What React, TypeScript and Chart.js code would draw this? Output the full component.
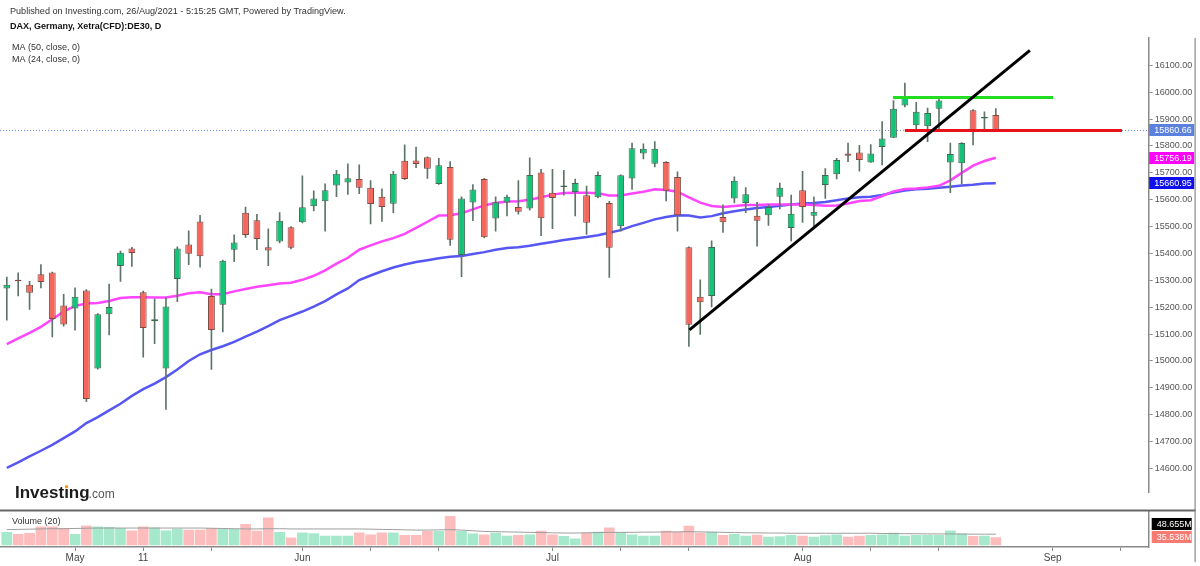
import React, { useEffect, useRef } from "react";
import { Chart, registerables } from "chart.js";

Chart.register(...registerables);

const FONT = '"Liberation Sans", Arial, Helvetica, sans-serif';
Chart.defaults.font.family = FONT;

// ---------- data ----------
const tradingDates = [
  "2021-04-23", "2021-04-26", "2021-04-27", "2021-04-28", "2021-04-29", "2021-04-30",
  "2021-05-03", "2021-05-04", "2021-05-05", "2021-05-06", "2021-05-07", "2021-05-10",
  "2021-05-11", "2021-05-12", "2021-05-13", "2021-05-14", "2021-05-17", "2021-05-18",
  "2021-05-19", "2021-05-20", "2021-05-21", "2021-05-25", "2021-05-26", "2021-05-27",
  "2021-05-28", "2021-05-31", "2021-06-01", "2021-06-02", "2021-06-03", "2021-06-04",
  "2021-06-07", "2021-06-08", "2021-06-09", "2021-06-10", "2021-06-11", "2021-06-14",
  "2021-06-15", "2021-06-16", "2021-06-17", "2021-06-18", "2021-06-21", "2021-06-22",
  "2021-06-23", "2021-06-24", "2021-06-25", "2021-06-28", "2021-06-29", "2021-06-30",
  "2021-07-01", "2021-07-02", "2021-07-05", "2021-07-06", "2021-07-07", "2021-07-08",
  "2021-07-09", "2021-07-12", "2021-07-13", "2021-07-14", "2021-07-15", "2021-07-16",
  "2021-07-19", "2021-07-20", "2021-07-21", "2021-07-22", "2021-07-23", "2021-07-26",
  "2021-07-27", "2021-07-28", "2021-07-29", "2021-07-30", "2021-08-02", "2021-08-03",
  "2021-08-04", "2021-08-05", "2021-08-06", "2021-08-09", "2021-08-10", "2021-08-11",
  "2021-08-12", "2021-08-13", "2021-08-16", "2021-08-17", "2021-08-18", "2021-08-19",
  "2021-08-20", "2021-08-23", "2021-08-24", "2021-08-25",
];
const futureDates = [
  "2021-08-26", "2021-08-27", "2021-08-30", "2021-08-31", "2021-09-01", "2021-09-02",
  "2021-09-03", "2021-09-06", "2021-09-07", "2021-09-08", "2021-09-09", "2021-09-10",
  "2021-09-13",
];

const openP = [
  15270, 15301, 15284, 15323, 15329, 15206, 15195, 15262, 14972, 15174,
  15353, 15419, 15256, 15148, 14972, 15305, 15433, 15519, 15242, 15209,
  15414, 15552, 15524, 15423, 15445, 15498, 15516, 15576, 15594, 15653,
  15664, 15677, 15645, 15611, 15585, 15745, 15746, 15758, 15659, 15722,
  15394, 15590, 15677, 15530, 15590, 15573, 15567, 15701, 15626, 15647,
  15629, 15617, 15609, 15588, 15501, 15679, 15772, 15734, 15740, 15685,
  15423, 15239, 15242, 15536, 15605, 15588, 15540, 15542, 15611, 15495,
  15635, 15540, 15655, 15695, 15772, 15776, 15739, 15796, 15831, 15951,
  15877, 15873, 15939, 15739, 15736, 15933, 15902, 15915,
];
const highP = [
  15312, 15328, 15296, 15359, 15331, 15248, 15272, 15266, 15176, 15286,
  15409, 15423, 15260, 15230, 15236, 15425, 15484, 15542, 15268, 15375,
  15469, 15573, 15546, 15492, 15552, 15500, 15689, 15633, 15659, 15709,
  15734, 15730, 15671, 15641, 15706, 15804, 15796, 15760, 15754, 15742,
  15611, 15656, 15680, 15611, 15617, 15671, 15756, 15713, 15713, 15709,
  15677, 15651, 15704, 15594, 15693, 15811, 15808, 15816, 15742, 15704,
  15425, 15302, 15447, 15581, 15685, 15645, 15590, 15581, 15662, 15617,
  15706, 15611, 15716, 15754, 15811, 15802, 15805, 15891, 15969, 16034,
  15962, 15941, 15974, 15811, 15813, 15935, 15927, 15939,
];
const lowP = [
  15152, 15242, 15192, 15272, 15090, 15130, 15115, 14849, 14970, 15097,
  15296, 15352, 15014, 15064, 14820, 15221, 15358, 15349, 14969, 15108,
  15370, 15460, 15414, 15355, 15439, 15417, 15514, 15558, 15483, 15611,
  15620, 15623, 15510, 15519, 15552, 15675, 15719, 15679, 15657, 15430,
  15314, 15522, 15458, 15483, 15540, 15546, 15561, 15466, 15492, 15617,
  15540, 15471, 15607, 15311, 15483, 15638, 15752, 15722, 15596, 15483,
  15054, 15099, 15201, 15478, 15588, 15552, 15427, 15504, 15566, 15447,
  15516, 15502, 15605, 15677, 15742, 15706, 15739, 15730, 15831, 15945,
  15855, 15816, 15855, 15626, 15659, 15804, 15855, 15855,
];
const closeP = [
  15284, 15297, 15254, 15294, 15156, 15136, 15239, 14859, 15174, 15201,
  15403, 15402, 15123, 15155, 15203, 15419, 15399, 15390, 15115, 15373,
  15441, 15469, 15454, 15411, 15522, 15421, 15572, 15605, 15635, 15697,
  15680, 15645, 15584, 15573, 15697, 15677, 15733, 15715, 15728, 15451,
  15605, 15638, 15460, 15591, 15611, 15555, 15692, 15531, 15606, 15653,
  15662, 15514, 15692, 15421, 15691, 15792, 15790, 15790, 15633, 15542,
  15135, 15219, 15424, 15516, 15671, 15620, 15522, 15573, 15645, 15548,
  15573, 15555, 15692, 15748, 15764, 15748, 15772, 15828, 15939, 15980,
  15927, 15923, 15969, 15770, 15811, 15853, 15906, 15860.66,
];

const ma24 = [
  15063, 15084, 15105, 15127, 15155, 15184, 15205, 15214, 15216, 15223,
  15234, 15237, 15237, 15236, 15236, 15243, 15252, 15256, 15248, 15248,
  15259, 15268, 15276, 15282, 15288, 15291, 15302, 15317, 15337, 15362,
  15384, 15414, 15430, 15445, 15457, 15473, 15495, 15518, 15541, 15542,
  15550, 15564, 15579, 15588, 15593, 15594, 15600, 15609, 15619, 15625,
  15626, 15626, 15624, 15616, 15616, 15623, 15630, 15639, 15636, 15630,
  15609, 15589, 15577, 15573, 15577, 15580, 15580, 15582, 15582, 15582,
  15582, 15580, 15578, 15579, 15586, 15595, 15598, 15614, 15631, 15640,
  15642, 15646, 15652, 15672, 15700, 15727, 15744, 15756.19,
];
const ma50 = [
  14602, 14623, 14645, 14666, 14688, 14713, 14738, 14769, 14791, 14816,
  14841, 14870, 14895, 14916, 14940, 14968, 15000, 15025, 15041, 15055,
  15071, 15091, 15109, 15130, 15152, 15168, 15184, 15202, 15223, 15248,
  15270, 15301, 15318, 15334, 15348, 15359, 15368, 15375, 15382, 15388,
  15391, 15398, 15405, 15414, 15420, 15423, 15429, 15436, 15443, 15450,
  15456, 15461, 15468, 15477, 15487, 15502, 15514, 15527, 15536, 15542,
  15541, 15534, 15539, 15550, 15557, 15564, 15569, 15573, 15578, 15582,
  15586, 15588, 15592, 15598, 15605, 15609, 15611, 15618, 15627, 15634,
  15639, 15641, 15645, 15648, 15653, 15656, 15660, 15660.95,
];

// volume in millions
const volume = [
  58.5, 49.7, 54.1, 83.2, 83.2, 76.1, 49.7, 87.6, 83.2, 80.5,
  76.1, 65.6, 83.2, 78.8, 65.6, 73.0, 68.6, 68.6, 76.1, 71.7,
  71.7, 93.7, 64.2, 122.8, 58.5, 34.8, 56.8, 52.8, 42.2, 42.2,
  42.2, 56.8, 48.0, 56.8, 56.8, 45.3, 45.3, 62.9, 62.9, 128.9,
  62.9, 52.4, 48.0, 55.4, 42.2, 45.3, 48.0, 64.2, 48.0, 40.9,
  30.4, 55.4, 59.8, 78.8, 56.8, 48.0, 42.2, 42.2, 64.2, 59.8,
  86.2, 55, 60, 45, 50, 42, 46, 38, 40, 45,
  42, 38, 44, 48, 38, 42, 45, 48.0, 55.4, 42.2,
  45.3, 45.3, 45.3, 65.6, 52.4, 40.9, 42.2, 35.538,
];
const volumeMA = [
  69, 70, 71, 72, 73, 73, 74, 75, 76, 76,
  76, 76, 76, 76, 76, 76, 76, 76, 75, 74,
  73, 72, 72, 73, 73, 72, 72, 72, 72, 72,
  72, 72, 71, 70, 69, 68, 67, 67, 68, 69,
  67, 64, 61, 60, 59, 58, 57, 56, 55, 54,
  54, 55, 56, 57, 57, 57, 58, 58, 59, 59,
  60, 59, 58, 57, 56, 55, 55, 54, 54, 53,
  53, 53, 53, 53, 53, 53, 53, 52, 52, 51,
  51, 50, 50, 50, 49.5, 49, 49, 48.655,
];

const yTickValues = [
  14600, 14700, 14800, 14900, 15000, 15100, 15200, 15300,
  15400, 15500, 15600, 15700, 15800, 15900, 16000, 16100,
];
const xTickDates = [
  "2021-05-03", "2021-05-11", "2021-05-19", "2021-06-01", "2021-06-09", "2021-06-17",
  "2021-07-01", "2021-07-09", "2021-07-19", "2021-08-02", "2021-08-10", "2021-08-18",
  "2021-09-01", "2021-09-09",
];
const xTickLabels = ["May", "11", "", "Jun", "", "", "Jul", "", "", "Aug", "", "", "Sep", ""];

// drawn lines: x = trading-day position, y = price
const blackTrend = [{ x: 60.05, y: 15116 }, { x: 90.0, y: 16156 }];
const greenLevel = [{ x: 77.95, y: 15980 }, { x: 92.05, y: 15980 }];
const redLevel = [{ x: 79.0, y: 15858 }, { x: 98.1, y: 15858 }];

const titleLine = "Published on Investing.com, 26/Aug/2021 - 5:15:25 GMT, Powered by TradingView.";
const symbolLine = "DAX, Germany, Xetra(CFD):DE30, D";
const maLegend = ["MA (50, close, 0)", "MA (24, close, 0)"];
const volumeLegend = "Volume (20)";

// ---------- styling ----------
const UP = "#14c278";
const DOWN = "#f5665c";
const UP_BORDER = "#3c6b52";
const DOWN_BORDER = "#7d4a44";
const WICK = "#5f7468";
const VOL_UP = "#a6e8cb";
const VOL_DOWN = "#fdbdbd";
const MA24_COLOR = "#ff45ff";
const MA50_COLOR = "#5656f4";
const AXIS_COLOR = "#8a8a8a";
const AXIS_W = 51.3;
const X_MIN = -0.6;
const X_MAX = 100.45;
const PRICE_MIN = 14512.5;
const PRICE_MAX = 16201.8;
const VOL_MIN = -7.5;
const VOL_MAX = 151;

const allDates = [...tradingDates, ...futureDates];
const idx = tradingDates.map((_, i) => i);
const isUp = (i: number) => closeP[i] >= openP[i];
const last = tradingDates.length - 1;

function drawTag(ctx: CanvasRenderingContext2D, x: number, y: number, w: number, text: string, bg: string, fg: string) {
  ctx.fillStyle = bg;
  ctx.fillRect(x, Math.round(y) - 6, w, 12);
  ctx.fillStyle = fg;
  ctx.font = `9px ${FONT}`;
  ctx.textAlign = "left";
  ctx.textBaseline = "middle";
  ctx.fillText(text, x + 5, Math.round(y) + 0.5);
}

const priceExtras = {
  id: "priceExtras",
  beforeDatasetsDraw(chart: any) {
    const { ctx, chartArea, scales } = chart;
    const y = Math.round(scales.y.getPixelForValue(closeP[last])) + 0.5;
    ctx.save();
    ctx.strokeStyle = "#6f8fe6";
    ctx.lineWidth = 1;
    ctx.setLineDash([1, 2]);
    ctx.beginPath();
    ctx.moveTo(chartArea.left, y);
    ctx.lineTo(chartArea.right, y);
    ctx.stroke();
    ctx.restore();
  },
  afterDraw(chart: any) {
    const { ctx, chartArea, scales } = chart;
    ctx.save();
    // header texts
    ctx.textAlign = "left";
    ctx.textBaseline = "middle";
    ctx.fillStyle = "#333";
    ctx.font = `9.1px ${FONT}`;
    ctx.fillText(titleLine, 10, 11.5);
    ctx.font = `bold 9px ${FONT}`;
    ctx.fillStyle = "#111";
    ctx.fillText(symbolLine, 10, 27);
    ctx.font = `9px ${FONT}`;
    ctx.fillStyle = "#333";
    ctx.fillText(maLegend[0], 12, 47.5);
    ctx.fillText(maLegend[1], 12, 59.5);

    // logo
    ctx.textBaseline = "alphabetic";
    ctx.font = `bold 17px ${FONT}`;
    ctx.fillStyle = "#1b1b1b";
    ctx.fillText("Investing", 15, 498);
    const wAll = ctx.measureText("Investing").width;
    const wPre = ctx.measureText("Invest").width;
    const wI = ctx.measureText("i").width;
    ctx.fillStyle = "#f39a1e";
    ctx.beginPath();
    ctx.arc(15 + wPre + wI / 2, 498 - 11.2, 1.7, 0, Math.PI * 2);
    ctx.fill();
    ctx.font = `12px ${FONT}`;
    ctx.fillStyle = "#555";
    ctx.fillText(".com", 14 + wAll, 498);

    // value tags on the price scale
    const x0 = chartArea.right + 0.5;
    drawTag(ctx, x0, scales.y.getPixelForValue(closeP[last]), 45, closeP[last].toFixed(2), "#5b80dd", "#fff");
    drawTag(ctx, x0, scales.y.getPixelForValue(ma24[last]), 45, ma24[last].toFixed(2), "#ff00ff", "#fff");
    drawTag(ctx, x0, scales.y.getPixelForValue(ma50[last]), 45, ma50[last].toFixed(2), "#1010ee", "#fff");

    // outer right frame
    ctx.fillStyle = AXIS_COLOR;
    ctx.fillRect(1194.5, chartArea.top, 1.2, chart.height - chartArea.top);
    ctx.restore();
  },
};

const volumeExtras = {
  id: "volumeExtras",
  afterDraw(chart: any) {
    const { ctx, chartArea, scales } = chart;
    ctx.save();
    ctx.fillStyle = "#666";
    ctx.fillRect(0, 0.5, 1195.5, 2);
    ctx.fillStyle = AXIS_COLOR;
    ctx.fillRect(1194.5, 0, 1.2, 53);
    ctx.textAlign = "left";
    ctx.textBaseline = "middle";
    ctx.fillStyle = "#333";
    ctx.font = `9px ${FONT}`;
    ctx.fillText(volumeLegend, 12, 13);
    const x0 = chartArea.right + 3;
    const yv = Math.round(scales.y.getPixelForValue(volume[last]));
    drawTag(ctx, x0, yv, 40, volume[last].toFixed(3) + "M", "#f77b72", "#fff");
    drawTag(ctx, x0, yv - 13, 40, volumeMA[last].toFixed(3) + "M", "#000", "#fff");
    ctx.restore();
  },
};

function xAxis(display: boolean): any {
  return {
    type: "linear",
    display,
    min: X_MIN,
    max: X_MAX,
    offset: false,
    afterBuildTicks(scale: any) {
      scale.ticks = xTickDates.map((d) => ({ value: allDates.indexOf(d) }));
    },
    afterFit(scale: any) {
      scale.height = 19;
    },
    ticks: {
      autoSkip: false,
      maxRotation: 0,
      minRotation: 0,
      padding: 1,
      color: "#444",
      font: { size: 10 },
      callback: (v: number) => {
        const k = xTickDates.findIndex((d) => allDates.indexOf(d) === v);
        return k >= 0 ? xTickLabels[k] : "";
      },
    },
    grid: { display: true, drawOnChartArea: false, drawTicks: true, tickLength: 4, color: AXIS_COLOR, offset: false },
    border: { display: true, color: AXIS_COLOR, width: 1.5 },
  };
}

export default function App() {
  const priceRef = useRef<HTMLCanvasElement>(null);
  const volRef = useRef<HTMLCanvasElement>(null);

  useEffect(() => {
    document.body.style.margin = "0";
    const priceChart = new Chart(priceRef.current as HTMLCanvasElement, {
      type: "bar",
      data: {
        datasets: [
          {
            type: "line",
            label: "MA50",
            data: idx.map((i) => ({ x: i, y: ma50[i] })),
            borderColor: MA50_COLOR,
            borderWidth: 2.5,
            pointRadius: 0,
            tension: 0,
            order: 10,
          },
          {
            type: "line",
            label: "MA24",
            data: idx.map((i) => ({ x: i, y: ma24[i] })),
            borderColor: MA24_COLOR,
            borderWidth: 2.5,
            pointRadius: 0,
            tension: 0,
            order: 9,
          },
          {
            type: "bar",
            label: "wick",
            data: idx.map((i) => ({ x: i, y: [lowP[i], highP[i]] })),
            backgroundColor: WICK,
            barThickness: 1,
            grouped: false,
            order: 8,
          },
          {
            type: "bar",
            label: "body",
            data: idx.map((i) => ({ x: i, y: [openP[i], closeP[i]] })),
            backgroundColor: idx.map((i) => (isUp(i) ? UP : DOWN)),
            borderColor: idx.map((i) => (isUp(i) ? UP_BORDER : DOWN_BORDER)),
            borderWidth: 1,
            borderSkipped: false,
            minBarLength: 1.5,
            barPercentage: 0.6,
            categoryPercentage: 1,
            grouped: false,
            order: 7,
          },
          {
            type: "line",
            label: "trend",
            data: blackTrend,
            borderColor: "#000",
            borderWidth: 3,
            pointRadius: 0,
            order: 1,
          },
          {
            type: "line",
            label: "resistance",
            data: greenLevel,
            borderColor: "#22dd22",
            borderWidth: 3,
            pointRadius: 0,
            order: 1,
          },
          {
            type: "line",
            label: "support",
            data: redLevel,
            borderColor: "#e8121c",
            borderWidth: 3,
            pointRadius: 0,
            order: 1,
          },
        ] as any,
      },
      options: {
        responsive: false,
        animation: false,
        events: [],
        layout: { padding: { top: 38, left: 0, right: 0, bottom: 0 } },
        plugins: { legend: { display: false }, tooltip: { enabled: false } },
        scales: {
          x: { ...xAxis(false) },
          y: {
            type: "linear",
            position: "right",
            min: PRICE_MIN,
            max: PRICE_MAX,
            afterBuildTicks(scale: any) {
              scale.ticks = yTickValues.map((v) => ({ value: v }));
            },
            afterFit(scale: any) {
              scale.width = AXIS_W;
            },
            ticks: {
              padding: 2,
              color: "#555",
              font: { size: 9 },
              autoSkip: false,
              callback: (v: number) => Number(v).toFixed(2),
            },
            grid: { display: true, drawOnChartArea: false, drawTicks: true, tickLength: 4, color: AXIS_COLOR },
            border: { display: true, color: AXIS_COLOR, width: 1.5 },
          },
        } as any,
      },
      plugins: [priceExtras],
    });

    const volChart = new Chart(volRef.current as HTMLCanvasElement, {
      type: "bar",
      data: {
        datasets: [
          {
            type: "line",
            label: "Volume MA",
            data: idx.map((i) => ({ x: i, y: volumeMA[i] })),
            borderColor: "#9e9e9e",
            borderWidth: 1,
            pointRadius: 0,
            tension: 0,
            order: 1,
          },
          {
            type: "bar",
            label: "Volume",
            data: idx.map((i) => ({ x: i, y: volume[i] })),
            backgroundColor: idx.map((i) => (isUp(i) ? VOL_UP : VOL_DOWN)),
            barPercentage: 0.94,
            categoryPercentage: 1,
            grouped: false,
            order: 2,
          },
        ] as any,
      },
      options: {
        responsive: false,
        animation: false,
        events: [],
        layout: { padding: { top: 2, left: 0, right: 0, bottom: 0 } },
        plugins: { legend: { display: false }, tooltip: { enabled: false } },
        scales: {
          x: xAxis(true),
          y: {
            type: "linear",
            position: "right",
            min: VOL_MIN,
            max: VOL_MAX,
            afterFit(scale: any) {
              scale.width = AXIS_W;
            },
            ticks: { display: false },
            grid: { display: false },
            border: { display: true, color: AXIS_COLOR, width: 1.5 },
          },
        } as any,
      },
      plugins: [volumeExtras],
    });

    return () => {
      priceChart.destroy();
      volChart.destroy();
    };
  }, []);

  return (
    <div style={{ position: "fixed", left: 0, top: 0, width: 1200, height: 566, background: "#fff", overflow: "hidden" }}>
      <canvas ref={priceRef} width={1200} height={511} style={{ position: "absolute", left: 0, top: 0, display: "block" }} />
      <canvas ref={volRef} width={1200} height={57} style={{ position: "absolute", left: 0, top: 509, display: "block" }} />
    </div>
  );
}
